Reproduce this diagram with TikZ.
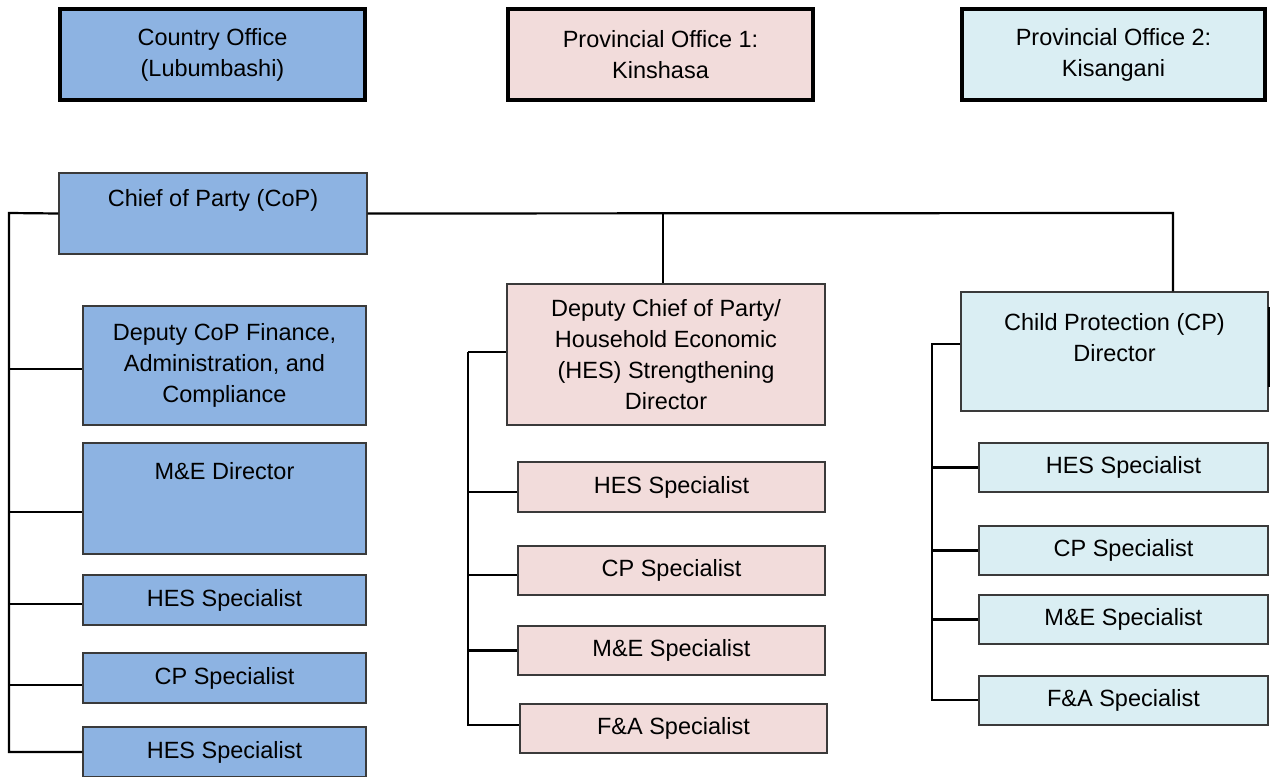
\documentclass[tikz,border=0pt]{standalone}
\usepackage{fontspec}
\setmainfont{Liberation Sans}
\definecolor{cblue}{HTML}{8DB3E2}
\definecolor{cpink}{HTML}{F2DCDB}
\definecolor{clight}{HTML}{DAEEF3}
\definecolor{cedge}{HTML}{3A3A3A}
\tikzset{
  box/.style={draw=cedge, line width=1.2pt, rectangle, inner sep=0pt, align=center,
    font=\fontsize{23.5}{31}\selectfont},
  office/.style={draw=black, line width=4pt, rectangle, inner sep=0pt, align=center,
    font=\fontsize{23.5}{31}\selectfont},
  txt/.style={inner sep=0pt, align=center, font=\fontsize{23.5}{31}\selectfont},
  conn/.style={draw=black, line width=2.2pt},
}
\begin{document}
\begin{tikzpicture}[x=1pt,y=-1pt]
\useasboundingbox (0,0) rectangle (1270,777);
% offices
\node[office, fill=cblue, minimum width=305pt, minimum height=91pt] (co) at (212.5,54.5) {Country Office\\(Lubumbashi)};
\node[office, fill=cpink, minimum width=305pt, minimum height=91pt] (po1) at (660.5,54.5) {Provincial Office 1:\\Kinshasa};
\node[office, fill=clight, minimum width=303pt, minimum height=91pt] (po2) at (1113.5,54.5) {Provincial Office 2:\\Kisangani};
% chief of party
\node[box, fill=cblue, minimum width=308pt, minimum height=81pt] (cop) at (213,213.5) {};
\node[txt] (copt) at (213,200) {Chief of Party (CoP)};
% left column
\node[box, fill=cblue, minimum width=283pt, minimum height=119pt] (dcf) at (224.5,365.5) {Deputy CoP Finance,\\Administration, and\\Compliance};
\node[box, fill=cblue, minimum width=283pt, minimum height=111pt] (med) at (224.5,498.5) {};
\node[txt] (medt) at (224.5,471) {M\&E Director};
\node[box, fill=cblue, minimum width=283pt, minimum height=50pt] (hes1) at (224.5,600) {HES Specialist};
\node[box, fill=cblue, minimum width=283pt, minimum height=50pt] (cps1) at (224.5,678) {CP Specialist};
\node[box, fill=cblue, minimum width=283pt, minimum height=50pt] (hes2) at (224.5,752) {HES Specialist};
% middle column
\node[box, fill=cpink, minimum width=318pt, minimum height=141pt] (dcop) at (666,354.5) {Deputy Chief of Party/\\Household Economic\\(HES) Strengthening\\Director};
\node[box, fill=cpink, minimum width=307pt, minimum height=50pt] (mhes) at (671.5,487) {HES Specialist};
\node[box, fill=cpink, minimum width=307pt, minimum height=49pt] (mcp) at (671.5,570.5) {CP Specialist};
\node[box, fill=cpink, minimum width=307pt, minimum height=49pt] (mme) at (671.5,650.5) {M\&E Specialist};
\node[box, fill=cpink, minimum width=307pt, minimum height=49pt] (mfa) at (673.5,728.5) {F\&A Specialist};
% right column
\node[box, fill=clight, minimum width=307pt, minimum height=119pt] (cpd) at (1114.5,351.5) {};
\node[txt] (cpdt) at (1114.5,338) {Child Protection (CP)\\Director};
\node[box, fill=clight, minimum width=289pt, minimum height=49pt] (rhes) at (1123.5,467.5) {HES Specialist};
\node[box, fill=clight, minimum width=289pt, minimum height=49pt] (rcp) at (1123.5,550.5) {CP Specialist};
\node[box, fill=clight, minimum width=289pt, minimum height=49pt] (rme) at (1123.5,619.5) {M\&E Specialist};
\node[box, fill=clight, minimum width=289pt, minimum height=49pt] (rfa) at (1123.5,700.5) {F\&A Specialist};
% connectors: top bus
\coordinate (tm) at (663,213);
\coordinate (tr) at (1173,213);
\draw[conn] (cop.east) -- (tr) -- (tr |- cpd.north);
\draw[conn] (tm) -- (tm |- dcop.north);
% left bus
\coordinate (lt) at (9,213);
\coordinate (lb) at (9,752);
\draw[conn] (cop.west) -- (lt) -- (lb) -- (hes2.west);
\draw[conn] ([yshift=-3.5pt]dcf.west -| lt) -- ([yshift=-3.5pt]dcf.west);
\draw[conn] ([yshift=-13.5pt]med.west -| lt) -- ([yshift=-13.5pt]med.west);
\draw[conn] ([yshift=-4pt]hes1.west -| lt) -- ([yshift=-4pt]hes1.west);
\draw[conn] ([yshift=-7pt]cps1.west -| lt) -- ([yshift=-7pt]cps1.west);
% middle bus
\coordinate (mt) at (468,352);
\coordinate (mb) at (468,725);
\draw[conn] (mt) -- (mt -| dcop.west);
\draw[conn] (mt) -- (mb) -- (mb -| mfa.west);
\draw[conn] ([yshift=-5pt]mhes.west -| mt) -- ([yshift=-5pt]mhes.west);
\draw[conn] ([yshift=-4.5pt]mcp.west -| mt) -- ([yshift=-4.5pt]mcp.west);
\draw[conn] (mme.west -| mt) -- (mme.west);
% right bus
\coordinate (rt) at (932,344);
\coordinate (rb) at (932,700);
\draw[conn] (rt -| cpd.west) -- (rt) -- (rb) -- (rb -| rfa.west);
\draw[conn] (rhes.west -| rt) -- (rhes.west);
\draw[conn] (rcp.west -| rt) -- (rcp.west);
\draw[conn] (rme.west -| rt) -- (rme.west);
% edge mark on right of CP director
\draw[conn] ([yshift=-16pt]cpd.north east) -- ([yshift=-96pt]cpd.north east);
\end{tikzpicture}
\end{document}
